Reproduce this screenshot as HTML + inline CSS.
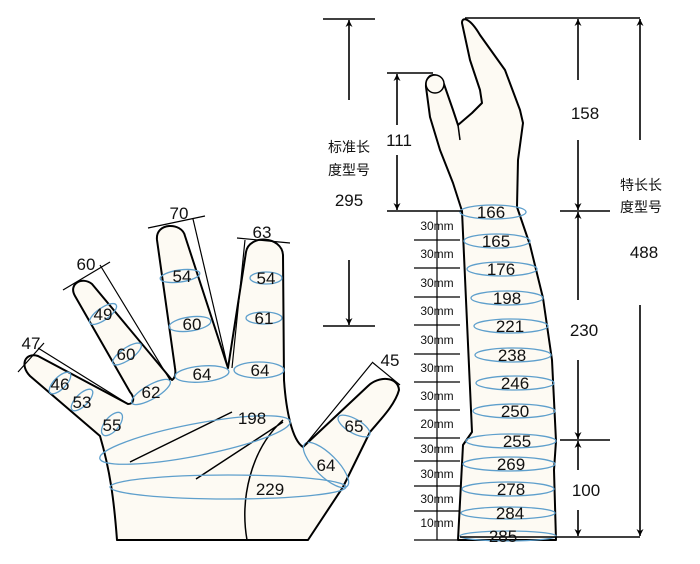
<!DOCTYPE html>
<html><head><meta charset="utf-8"><style>
html,body{margin:0;padding:0;background:#fff;}
svg{display:block;}
text{font-family:"Liberation Sans","Noto Sans CJK SC",sans-serif;fill:#111;}
</style></head><body>
<svg width="700" height="564" viewBox="0 0 700 564" xmlns="http://www.w3.org/2000/svg">
<defs>
<marker id="a" viewBox="0 0 10 10" refX="10" refY="5" markerWidth="7" markerHeight="9" orient="auto-start-reverse" markerUnits="userSpaceOnUse"><path d="M0,0 L10,5 L0,10 L3,5 z" fill="#000"/></marker>
</defs>
<g fill="#fdfaf3" stroke="#000" stroke-width="2" stroke-linejoin="round">
<path d="M117,540 C114,500 110,470 100,436 L30,376 C20,366 24,352 38,356 L128,404 C134,404 135,398 130,392 L75,296 C68,284 82,276 92,284 L172,380 C175,378 176,374 175,368 L157,240 C155,222 182,222 185,236 L228,368 L246,252 C249,234 282,236 283,255 L284,380 C286,410 292,440 303,447 L368,386 C378,376 398,376 399,390 C395,405 380,420 370,432 L343,487 L308,540 Z"/>
<path d="M458,540 L463,445 L472,432 L466,300 L462,211 L453,183 L440,150 L430,117 L426,87 C425,72 440,70 445,87 L453,110 L458,125 L472,113 L482,103 L480,90 L470,60 L462,23 C462,16 470,18 480,35 L505,70 L520,110 L523,123 L518,160 L517,207 L530,245 L543,298 L552,360 L556,441 L554,470 L556,540 Z"/>
</g>
<g fill="none" stroke="#000" stroke-width="1.5">
<path d="M458,125 L460,140"/>
<circle cx="435" cy="84" r="9" fill="#fdfaf3"/>
<path d="M130,462 L232,412 M196,479 L283,422 M247,540 C240,500 250,450 283,420"/>
</g>
<g fill="none" stroke="#5e9fcc" stroke-width="1.3">
<ellipse cx="195" cy="440" rx="97" ry="16" transform="rotate(-11 195 440)"/>
<ellipse cx="228" cy="487" rx="118" ry="12"/>
<ellipse cx="60" cy="383" rx="14" ry="6" transform="rotate(-45 60 383)"/>
<ellipse cx="82" cy="400" rx="14" ry="6" transform="rotate(-45 82 400)"/>
<ellipse cx="112" cy="424" rx="14" ry="7" transform="rotate(-50 112 424)"/>
<ellipse cx="103" cy="314" rx="16" ry="6" transform="rotate(-35 103 314)"/>
<ellipse cx="127" cy="354" rx="17" ry="6" transform="rotate(-35 127 354)"/>
<ellipse cx="151" cy="392" rx="22" ry="7" transform="rotate(-30 151 392)"/>
<ellipse cx="180" cy="276" rx="20" ry="6" transform="rotate(-8 180 276)"/>
<ellipse cx="190" cy="324" rx="21" ry="7" transform="rotate(-8 190 324)"/>
<ellipse cx="202" cy="374" rx="27" ry="8" transform="rotate(-5 202 374)"/>
<ellipse cx="266" cy="278" rx="16" ry="6"/>
<ellipse cx="264" cy="318" rx="18" ry="6"/>
<ellipse cx="259" cy="370" rx="25" ry="8"/>
<ellipse cx="354" cy="426" rx="18" ry="7" transform="rotate(30 354 426)"/>
<ellipse cx="326" cy="465" rx="30" ry="11" transform="rotate(45 326 465)"/>
<ellipse cx="493" cy="212" rx="33" ry="7"/>
<ellipse cx="497" cy="241" rx="33" ry="7"/>
<ellipse cx="502" cy="269" rx="35" ry="7"/>
<ellipse cx="507" cy="298" rx="36" ry="7"/>
<ellipse cx="511" cy="326" rx="37" ry="7"/>
<ellipse cx="513" cy="355" rx="38" ry="7"/>
<ellipse cx="515" cy="383" rx="39" ry="7"/>
<ellipse cx="514" cy="411" rx="41" ry="7"/>
<ellipse cx="511" cy="441" rx="45" ry="7"/>
<ellipse cx="509" cy="464" rx="46" ry="7"/>
<ellipse cx="508" cy="489" rx="46" ry="7"/>
<ellipse cx="508" cy="513" rx="47" ry="6"/>
<ellipse cx="508" cy="536" rx="48" ry="5"/>
</g>
<g stroke="#000" stroke-width="1.2" fill="none">
<path d="M18,372 L44,343 M38,348 L128,404"/>
<path d="M63,290 L110,262 M100,265 L170,380"/>
<path d="M148,228 L205,216 M193,219 L228,368"/>
<path d="M237,238 L290,243 M245,240 L232,368"/>
<path d="M372,362 L400,385 M372,363 L305,445"/>
</g>
<g stroke="#000" stroke-width="1.6" fill="none">
<path d="M323,19 H375 M323,326 H375"/>
<path d="M349,100 V20" marker-end="url(#a)"/>
<path d="M349,260 V325" marker-end="url(#a)"/>
<path d="M387,73 H433 M387,211 H462"/>
<path d="M397,125 V74" marker-end="url(#a)"/>
<path d="M397,155 V210" marker-end="url(#a)"/>
<path d="M465,18 H640 M460,537 H640 M560,211 H610 M560,440 H610"/>
<path d="M578,80 V19" marker-end="url(#a)"/>
<path d="M578,140 V210" marker-end="url(#a)"/>
<path d="M578,300 V212" marker-end="url(#a)"/>
<path d="M578,360 V439" marker-end="url(#a)"/>
<path d="M578,470 V441" marker-end="url(#a)"/>
<path d="M578,510 V536" marker-end="url(#a)"/>
<path d="M640,140 V19" marker-end="url(#a)"/>
<path d="M640,305 V536" marker-end="url(#a)"/>
</g>
<g stroke="#000" stroke-width="1.2">
<path d="M437,211 V540"/>
<path d="M414,240 H460 M414,268 H460 M414,297 H460 M414,325 H460 M414,354 H460 M414,382 H460 M414,410 H460 M414,438 H460 M414,461 H460 M414,486 H460 M414,511 H460 M414,540 H460"/>
</g>
<g font-size="12" text-anchor="middle">
<text x="437" y="230">30mm</text><text x="437" y="258">30mm</text><text x="437" y="287">30mm</text><text x="437" y="315">30mm</text><text x="437" y="344">30mm</text><text x="437" y="372">30mm</text><text x="437" y="400">30mm</text><text x="437" y="428">20mm</text><text x="437" y="453">30mm</text><text x="437" y="478">30mm</text><text x="437" y="503">30mm</text><text x="437" y="527">10mm</text>
</g>
<g font-size="17" text-anchor="middle">
<text x="491" y="218">166</text><text x="496" y="247">165</text><text x="501" y="275">176</text><text x="507" y="304">198</text><text x="510" y="332">221</text><text x="512" y="361">238</text><text x="515" y="389">246</text><text x="515" y="417">250</text><text x="517" y="447">255</text><text x="511" y="470">269</text><text x="511" y="495">278</text><text x="510" y="519">284</text><text x="503" y="542">285</text>
<text x="585" y="119">158</text><text x="584" y="336">230</text><text x="586" y="496">100</text><text x="644" y="258">488</text>
<text x="349" y="206">295</text><text x="399" y="146">111</text>
</g>
<g font-size="14" text-anchor="middle">
<text x="349" y="152">标准长</text><text x="349" y="175">度型号</text>
<text x="641" y="190">特长长</text><text x="641" y="212">度型号</text>
</g>
<g font-size="17" text-anchor="middle">
<text x="31" y="349">47</text><text x="86" y="270">60</text><text x="179" y="219">70</text><text x="262" y="238">63</text><text x="390" y="366">45</text>
<text x="60" y="390">46</text><text x="82" y="408">53</text><text x="112" y="431">55</text>
<text x="103" y="320">49</text><text x="126" y="360">60</text><text x="151" y="398">62</text>
<text x="182" y="282">54</text><text x="192" y="330">60</text><text x="202" y="380">64</text>
<text x="266" y="284">54</text><text x="264" y="324">61</text><text x="260" y="376">64</text>
<text x="252" y="424">198</text><text x="270" y="495">229</text><text x="354" y="432">65</text><text x="326" y="471">64</text>
</g>
</svg>
</body></html>
